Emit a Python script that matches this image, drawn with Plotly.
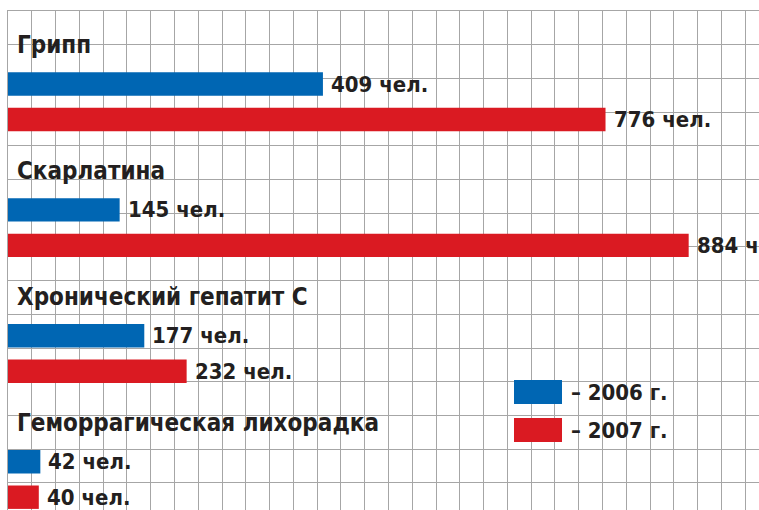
import plotly.graph_objects as go

# ---------------- data ----------------
categories = ["Грипп", "Скарлатина", "Хронический гепатит С", "Геморрагическая лихорадка"]
values_2006 = [409, 145, 177, 42]
values_2007 = [776, 884, 232, 40]
series_names = ["– 2006 г.", "– 2007 г."]
unit = "чел."

# ---------------- style / layout ----------------
W, H = 759, 510
ML, MT = 8, 11
PX_PER_UNIT = 0.77          # horizontal scale (px per person)
GRID_X = 23.78              # grid pitch, px
GRID_Y = 33.7
PLOT_W = W - ML
PLOT_H = H - MT
BLUE = "#0066b3"
RED = "#da1a22"
INK = "#231f20"
GRID = "#a6a6a6"
FONT = "DejaVu Sans Condensed, Liberation Sans Narrow, Roboto Condensed, Roboto, sans-serif"
FS_TITLE = 24
FS_LABEL = 22

GROUP_START = 73.0
GROUP_PITCH = 125.9
PAIR_GAP = 35.5
BAR_THICK = 23.4
TITLE_OFFSET = 39.0

n = len(categories)
y_2006 = [GROUP_START + i * GROUP_PITCH for i in range(n)]
y_2007 = [y + PAIR_GAP for y in y_2006]
y_title = [y - TITLE_OFFSET for y in y_2006]

fig = go.Figure()
fig.add_trace(go.Bar(y=y_2006, x=values_2006, orientation="h", width=BAR_THICK,
                     marker=dict(color=BLUE, line=dict(width=0)), name=series_names[0],
                     hoverinfo="skip"))
fig.add_trace(go.Bar(y=y_2007, x=values_2007, orientation="h", width=BAR_THICK,
                     marker=dict(color=RED, line=dict(width=0)), name=series_names[1],
                     hoverinfo="skip"))

ann = []
for i, c in enumerate(categories):
    ann.append(dict(x=0, y=y_title[i], xref="x", yref="y", text=c, showarrow=False,
                    xanchor="left", yanchor="middle", xshift=7,
                    font=dict(family=FONT, size=FS_TITLE, color=INK, weight="bold")))
for ys, vals in ((y_2006, values_2006), (y_2007, values_2007)):
    for y, v in zip(ys, vals):
        ann.append(dict(x=v, y=y, xref="x", yref="y", text=f"{v} {unit}", showarrow=False,
                        xanchor="left", yanchor="middle", xshift=6,
                        font=dict(family=FONT, size=FS_LABEL, color=INK, weight="bold")))

def px_x(px):
    return (px - ML) / PLOT_W
def px_y(py):
    return 1 - (py - MT) / PLOT_H

shapes = []
for k, (col, name) in enumerate(zip((BLUE, RED), series_names)):
    top = 380 + k * 38
    shapes.append(dict(type="rect", xref="paper", yref="paper",
                       x0=px_x(514), x1=px_x(562), y0=px_y(top + 24), y1=px_y(top),
                       fillcolor=col, line=dict(width=0), layer="above"))
    ann.append(dict(x=px_x(569), y=px_y(top + 12), xref="paper", yref="paper", text=name,
                    showarrow=False, xanchor="left", yanchor="middle",
                    font=dict(family=FONT, size=FS_LABEL, color=INK, weight="bold")))

fig.update_layout(
    width=W, height=H,
    margin=dict(l=ML, r=0, t=MT, b=0, autoexpand=False),
    paper_bgcolor="white", plot_bgcolor="white",
    showlegend=False, barmode="overlay",
    annotations=ann, shapes=shapes,
    xaxis=dict(range=[0, PLOT_W / PX_PER_UNIT], tick0=0, dtick=GRID_X / PX_PER_UNIT,
               showgrid=True, gridcolor=GRID, gridwidth=1.2, zeroline=False,
               showticklabels=False, ticks="", showline=True, linecolor=GRID,
               linewidth=1.2, side="top", fixedrange=True),
    yaxis=dict(range=[PLOT_H, 0], tick0=0, dtick=GRID_Y,
               showgrid=True, gridcolor=GRID, gridwidth=1.2, zeroline=False,
               showticklabels=False, ticks="", showline=True, linecolor=GRID,
               linewidth=1.2, fixedrange=True),
)

fig.write_html("out.html", config={"displayModeBar": False},
               post_script="document.body.style.margin='0';document.body.style.padding='0';")
